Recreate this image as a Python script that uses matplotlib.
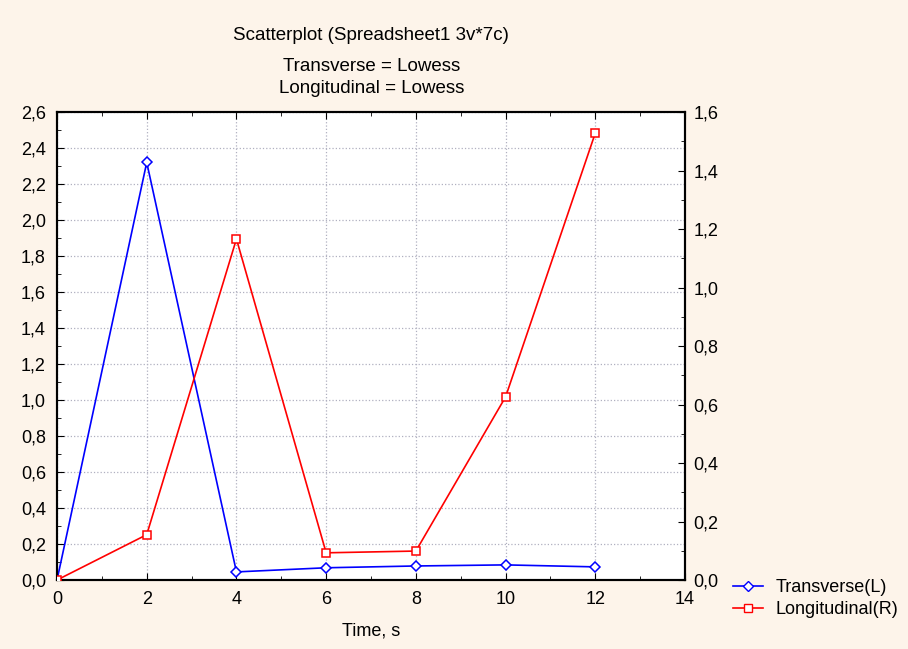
import matplotlib.pyplot as plt
from matplotlib.ticker import MultipleLocator, FuncFormatter
from matplotlib.lines import Line2D

plt.rcParams['font.family'] = ['Liberation Sans', 'DejaVu Sans']

# data
time = [0, 2, 4, 6, 8, 10, 12]
transverse = [0.0, 2.32, 0.045, 0.068, 0.078, 0.084, 0.073]
longitudinal = [0.0, 0.155, 1.166, 0.093, 0.099, 0.626, 1.528]

bg = '#fdf4ea'
blue = '#0000ff'
red = '#ff0000'
fs = 13

fig = plt.figure(figsize=(9.08, 6.49), dpi=100, facecolor=bg)
ax = fig.add_axes([0.0628, 0.1063, 0.6916, 0.7211])
ax.set_facecolor('white')

comma = FuncFormatter(lambda v, p: f"{v:.1f}".replace('.', ','))

ax.plot(time, transverse, color=blue, lw=1.2, marker='D', ms=5,
        mfc='white', mec=blue, mew=1.1, zorder=3)
ax.set_xlim(0, 14)
ax.set_ylim(0, 2.6)
ax.xaxis.set_major_locator(MultipleLocator(2))
ax.xaxis.set_minor_locator(MultipleLocator(1))
ax.yaxis.set_major_locator(MultipleLocator(0.2))
ax.yaxis.set_minor_locator(MultipleLocator(0.1))
ax.yaxis.set_major_formatter(comma)
ax.grid(True, which='major', color='#b0b0c0', ls=':', lw=0.9)
ax.tick_params(which='both', direction='in', top=True, labelsize=fs,
               colors='black')
ax.tick_params(which='major', length=5)
ax.tick_params(which='minor', length=3)
ax.tick_params(axis='x', pad=8)
ax.tick_params(axis='y', pad=8)
ax.set_xlabel('Time, s', fontsize=fs, labelpad=10)

ax2 = ax.twinx()
ax2.plot(time, longitudinal, color=red, lw=1.2, marker='s', ms=6,
         mfc='white', mec=red, mew=1.1, zorder=3)
ax2.set_ylim(0, 1.6)
ax2.yaxis.set_major_locator(MultipleLocator(0.2))
ax2.yaxis.set_minor_locator(MultipleLocator(0.1))
ax2.yaxis.set_major_formatter(comma)
ax2.tick_params(which='both', direction='in', labelsize=fs, pad=6)
ax2.tick_params(which='major', length=5)
ax2.tick_params(which='minor', length=3)

for a in (ax, ax2):
    for s in a.spines.values():
        s.set_linewidth(1.5)

fig.text(0.409, 0.946, 'Scatterplot (Spreadsheet1 3v*7c)', ha='center',
         va='center', fontsize=13.5)
fig.text(0.409, 0.898, 'Transverse = Lowess', ha='center', va='center',
         fontsize=13.5)
fig.text(0.409, 0.864, 'Longitudinal = Lowess', ha='center', va='center',
         fontsize=13.5)

handles = [
    Line2D([], [], color=blue, lw=1.2, marker='D', ms=5, mfc='white', mec=blue),
    Line2D([], [], color=red, lw=1.2, marker='s', ms=6, mfc='white', mec=red),
]
fig.legend(handles, ['Transverse(L)', 'Longitudinal(R)'],
           loc='upper left', bbox_to_anchor=(0.797, 0.121), frameon=False,
           fontsize=fs, handlelength=1.7, handletextpad=0.65,
           labelspacing=0.25, borderpad=0)

fig.savefig('out.png', dpi=100, facecolor=bg)
